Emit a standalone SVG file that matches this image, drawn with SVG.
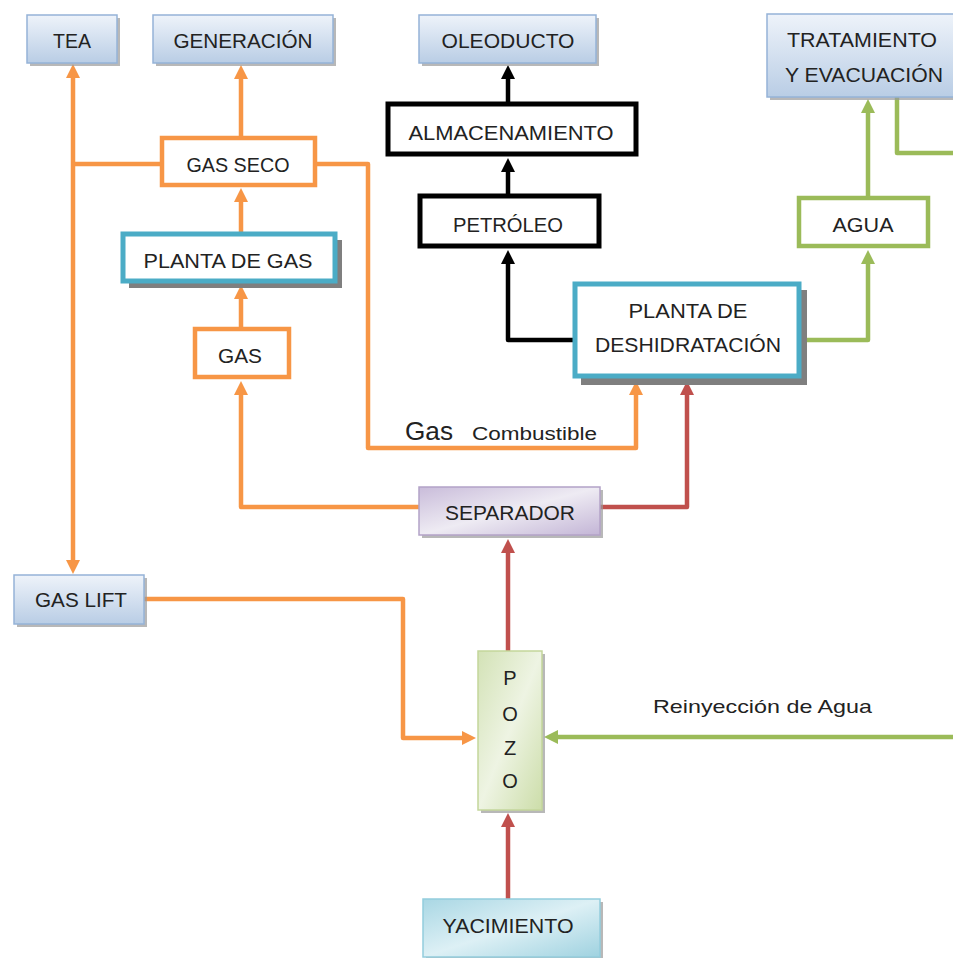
<svg xmlns="http://www.w3.org/2000/svg" width="953" height="958" viewBox="0 0 953 958">
<defs>
<linearGradient id="gBlue" x1="0" y1="0" x2="0" y2="1"><stop offset="0" stop-color="#EEF3FA"/><stop offset="1" stop-color="#B9CDE5"/></linearGradient>
<linearGradient id="gPurple" x1="0" y1="0" x2="1" y2="1"><stop offset="0" stop-color="#C9BCDA"/><stop offset="0.5" stop-color="#EEEBF3"/><stop offset="1" stop-color="#C3B5D6"/></linearGradient>
<linearGradient id="gGreen" x1="0" y1="0" x2="1" y2="1"><stop offset="0" stop-color="#D3E2B6"/><stop offset="0.5" stop-color="#EEF4E3"/><stop offset="1" stop-color="#CCDDA9"/></linearGradient>
<linearGradient id="gTeal" x1="0" y1="0" x2="1" y2="1"><stop offset="0" stop-color="#A9D7E4"/><stop offset="0.5" stop-color="#DDF0F5"/><stop offset="1" stop-color="#9FD2E0"/></linearGradient>
<marker id="aO" viewBox="0 0 14 14" markerWidth="14" markerHeight="14" markerUnits="userSpaceOnUse" refX="6" refY="7" orient="auto-start-reverse"><path d="M0,0 L14,7 L0,14 z" fill="#F79646"/></marker>
<marker id="aR" viewBox="0 0 14 14" markerWidth="14" markerHeight="14" markerUnits="userSpaceOnUse" refX="6" refY="7" orient="auto"><path d="M0,0 L14,7 L0,14 z" fill="#C0504D"/></marker>
<marker id="aG" viewBox="0 0 14 14" markerWidth="14" markerHeight="14" markerUnits="userSpaceOnUse" refX="6" refY="7" orient="auto"><path d="M0,0 L14,7 L0,14 z" fill="#9BBB59"/></marker>
<marker id="aK" viewBox="0 0 14 14" markerWidth="14" markerHeight="14" markerUnits="userSpaceOnUse" refX="6" refY="7" orient="auto"><path d="M0,0 L14,7 L0,14 z" fill="#000"/></marker>
</defs>
<style>
text{font-family:"Liberation Sans",Arial,sans-serif;fill:#222;}
.t{font-size:20px;text-anchor:middle;}
.sh{fill:#9a9a9a;opacity:0.7;}
.shd{fill:#7f7f7f;}
.blue{fill:url(#gBlue);stroke:#95B3D7;stroke-width:1.5;}
.plant{fill:#fff;stroke:#4BACC6;stroke-width:5;}
.blk{fill:#fff;stroke:#000;stroke-width:5;}
.org{fill:#fff;stroke:#F79646;stroke-width:4.5;}
.grn{fill:#fff;stroke:#9BBB59;stroke-width:4.5;}
.c{fill:none;stroke-width:4.5;stroke-linejoin:round;}
.co{stroke:#F79646;}
.cr{stroke:#C0504D;}
.cg{stroke:#9BBB59;}
.ck{stroke:#000;}
</style>
<g id="connectors">
<path class="c co" d="M73,566 L73,72" marker-start="url(#aO)" marker-end="url(#aO)"/>
<path class="c co" d="M73,164 L162,164"/>
<path class="c co" d="M241,138 L241,73" marker-end="url(#aO)"/>
<path class="c co" d="M241,232 L241,196" marker-end="url(#aO)"/>
<path class="c co" d="M241,327 L241,293" marker-end="url(#aO)"/>
<path class="c co" d="M419,507 L241,507 L241,389" marker-end="url(#aO)"/>
<path class="c co" d="M316,164 L368,164 L368,448 L636,448 L636,389" marker-end="url(#aO)"/>
<path class="c cr" d="M600,507 L687,507 L687,389" marker-end="url(#aR)"/>
<path class="c ck" d="M573,340 L508,340 L508,258" marker-end="url(#aK)"/>
<path class="c ck" d="M508,194 L508,166" marker-end="url(#aK)"/>
<path class="c ck" d="M508,102 L508,73" marker-end="url(#aK)"/>
<path class="c cg" d="M801,340 L868,340 L868,258" marker-end="url(#aG)"/>
<path class="c cg" d="M868,196 L868,107" marker-end="url(#aG)"/>
<path class="c cg" d="M897,97 L897,153 L953,153"/>
<path class="c cr" d="M508,651 L508,547" marker-end="url(#aR)"/>
<path class="c cr" d="M508,899 L508,821" marker-end="url(#aR)"/>
<path class="c co" d="M144,599 L403,599 L403,738 L468,738" marker-end="url(#aO)"/>
<path class="c cg" d="M953,737 L552,737" marker-end="url(#aG)"/>
<text x="405" y="440" style="font-size:25px" textLength="48" lengthAdjust="spacingAndGlyphs">Gas</text>
<text x="472" y="440" style="font-size:18px" textLength="125" lengthAdjust="spacingAndGlyphs">Combustible</text>
<text x="653" y="713" style="font-size:19px" textLength="219" lengthAdjust="spacingAndGlyphs">Reinyección de Agua</text>
</g>
<g id="tea"><rect class="sh" x="30" y="18" width="90" height="48"/><rect class="blue" x="27" y="15" width="90" height="48"/><text class="t" x="72" y="48" textLength="38" lengthAdjust="spacingAndGlyphs">TEA</text></g>
<g id="generacion"><rect class="sh" x="156" y="18" width="180" height="48"/><rect class="blue" x="153" y="15" width="180" height="48"/><text class="t" x="243" y="48" textLength="139" lengthAdjust="spacingAndGlyphs">GENERACIÓN</text></g>
<g id="oleoducto"><rect class="sh" x="422" y="18" width="177" height="48"/><rect class="blue" x="419" y="15" width="177" height="48"/><text class="t" x="508" y="48" textLength="133" lengthAdjust="spacingAndGlyphs">OLEODUCTO</text></g>
<g id="tratamiento"><rect class="sh" x="770" y="17" width="200" height="83"/><rect class="blue" x="767" y="14" width="200" height="83"/><text class="t" x="862" y="47" textLength="150" lengthAdjust="spacingAndGlyphs">TRATAMIENTO</text><text class="t" x="864" y="82" textLength="158" lengthAdjust="spacingAndGlyphs">Y EVACUACIÓN</text></g>
<g id="gasseco"><rect class="org" x="162" y="138" width="153" height="47"/><text class="t" x="238" y="172" textLength="103" lengthAdjust="spacingAndGlyphs">GAS SECO</text></g>
<g id="almacenamiento"><rect class="blk" x="388" y="104" width="248" height="50"/><text class="t" x="511" y="140" textLength="205" lengthAdjust="spacingAndGlyphs">ALMACENAMIENTO</text></g>
<g id="petroleo"><rect class="blk" x="420" y="196" width="179" height="50"/><text class="t" x="508" y="232" textLength="110" lengthAdjust="spacingAndGlyphs">PETRÓLEO</text></g>
<g id="agua"><rect class="grn" x="799" y="198" width="129" height="48"/><text class="t" x="863" y="232" textLength="61" lengthAdjust="spacingAndGlyphs">AGUA</text></g>
<g id="plantagas"><rect class="shd" x="129" y="240" width="213" height="48"/><rect class="plant" x="123" y="234" width="212" height="47"/><text class="t" x="228" y="268" textLength="169" lengthAdjust="spacingAndGlyphs">PLANTA DE GAS</text></g>
<g id="gas"><rect class="org" x="195" y="329" width="94" height="48"/><text class="t" x="240" y="363" textLength="44" lengthAdjust="spacingAndGlyphs">GAS</text></g>
<g id="deshidratacion"><rect class="shd" x="581" y="290" width="226" height="95"/><rect class="plant" x="575" y="284" width="224" height="92"/><text class="t" x="688" y="318" textLength="119" lengthAdjust="spacingAndGlyphs">PLANTA DE</text><text class="t" x="688" y="352" textLength="186" lengthAdjust="spacingAndGlyphs">DESHIDRATACIÓN</text></g>
<g id="separador"><rect class="sh" x="422" y="490" width="181" height="48"/><rect x="419" y="487" width="181" height="48" fill="url(#gPurple)" stroke="#B3A2C7" stroke-width="1.5"/><text class="t" x="510" y="520" textLength="130" lengthAdjust="spacingAndGlyphs">SEPARADOR</text></g>
<g id="gaslift"><rect class="sh" x="17" y="578" width="130" height="49"/><rect class="blue" x="14" y="575" width="130" height="49"/><text class="t" x="81" y="607" textLength="92" lengthAdjust="spacingAndGlyphs">GAS LIFT</text></g>
<g id="pozo"><rect class="sh" x="481" y="654" width="64" height="159"/><rect x="478" y="651" width="64" height="159" fill="url(#gGreen)" stroke="#C3D69B" stroke-width="1.5"/><text class="t" x="510" y="685">P</text><text class="t" x="510" y="721">O</text><text class="t" x="510" y="755">Z</text><text class="t" x="510" y="788">O</text></g>
<g id="yacimiento"><rect class="sh" x="426" y="902" width="177" height="58"/><rect x="423" y="899" width="177" height="58" fill="url(#gTeal)" stroke="#93CDDD" stroke-width="1.5"/><text class="t" x="508" y="933" textLength="131" lengthAdjust="spacingAndGlyphs">YACIMIENTO</text></g>
</svg>
